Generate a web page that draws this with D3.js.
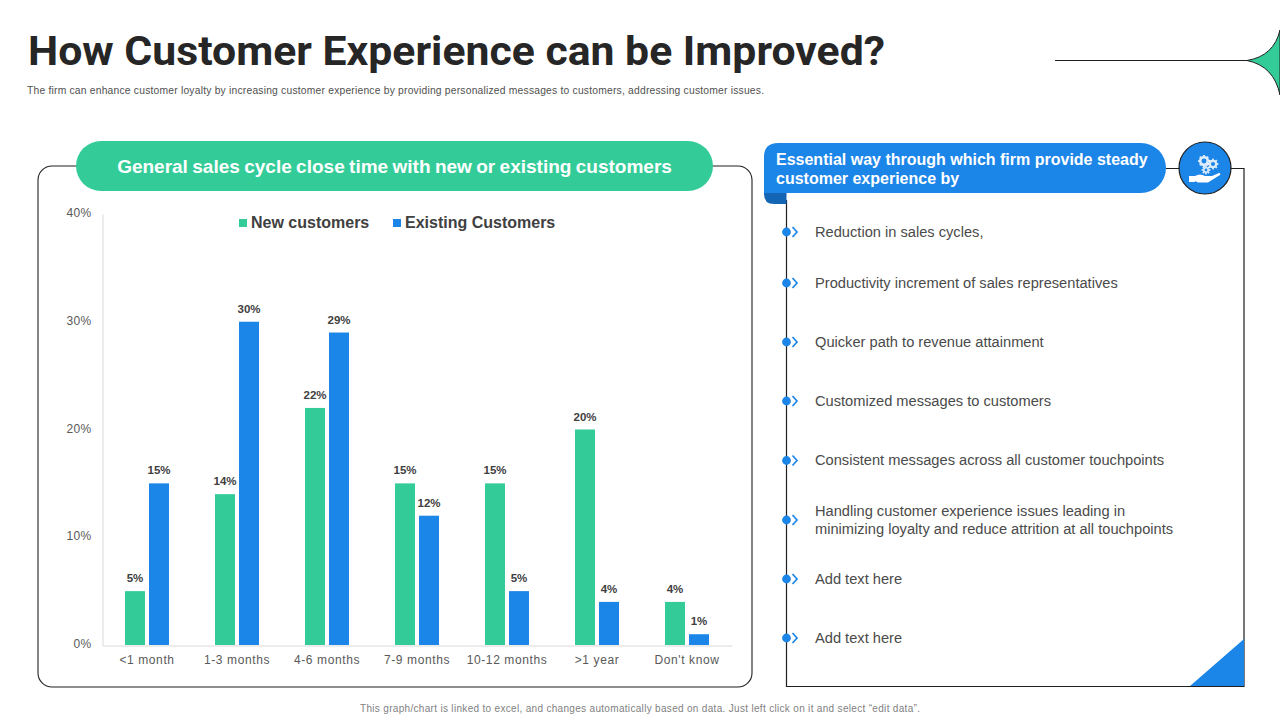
<!DOCTYPE html>
<html><head><meta charset="utf-8">
<script src="https://cdn.jsdelivr.net/npm/d3@7"></script>
<style>
html,body{margin:0;padding:0;background:#fff;width:1280px;height:720px;overflow:hidden}
svg{display:block}
text{font-family:"Liberation Sans",Arial,sans-serif}
</style></head><body>
<svg id="c" width="1280" height="720"></svg>
<script>
const categories = ["<1 month","1-3 months","4-6 months","7-9 months","10-12 months",">1 year","Don't know"];
const seriesNames = ["New customers","Existing Customers"];
const newCustomers = [5,14,22,15,15,20,4];
const existingCustomers = [15,30,29,12,5,4,1];
const yTicks = [0,10,20,30,40];
const bulletItems = [
 ["Reduction in sales cycles,"],
 ["Productivity increment of sales representatives"],
 ["Quicker path to revenue attainment"],
 ["Customized messages to customers"],
 ["Consistent messages across all customer touchpoints"],
 ["Handling customer experience issues leading in","minimizing loyalty and reduce attrition at all touchpoints"],
 ["Add text here"],
 ["Add text here"]
];
const bulletY = [232,283,342,401,460.5,520,579,638];
const titleText = "How Customer Experience can be Improved?";
const subText = "The firm can enhance customer loyalty by increasing customer experience by providing personalized messages to customers, addressing customer issues.";
const footText = "This graph/chart is linked to excel, and changes automatically based on data. Just left click on it and select \u201cedit data\u201d.";
const chartHead = "General sales cycle close time with new or existing customers";
const sideHead = ["Essential way through which firm provide steady","customer experience by"];

const GREEN="#33CC99", BLUE="#1C85E8", DARK="#1F1F1F", TXT="#404040";
const svg=d3.select("#c");

// title
svg.append("text").attr("x",28).attr("y",64.5).attr("font-size",41).attr("font-weight",700)
  .style("font-family","Roboto").attr("fill","#262626").attr("textLength",857).attr("lengthAdjust","spacingAndGlyphs").text(titleText);
svg.append("text").attr("x",27).attr("y",94).attr("font-size",10.3).attr("fill","#505050").attr("textLength",737).attr("lengthAdjust","spacing").text(subText);

// corner ornament
svg.append("line").attr("x1",1055).attr("x2",1248).attr("y1",60.5).attr("y2",60.5).attr("stroke",DARK).attr("stroke-width",1.2);
svg.append("path").attr("d","M1247,60.5 Q1274,56 1280,30 L1280,95 Q1274,66 1247,60.5Z").attr("fill",GREEN).attr("stroke",DARK).attr("stroke-width",1);

// left panel
svg.append("rect").attr("x",38).attr("y",166).attr("width",714).attr("height",521).attr("rx",14).attr("fill","#fff").attr("stroke",DARK).attr("stroke-width",1.1);
svg.append("rect").attr("x",76).attr("y",141).attr("width",637).attr("height",50).attr("rx",25).attr("fill",GREEN);
svg.append("text").attr("x",394.5).attr("y",172.5).attr("text-anchor","middle").attr("font-size",19).attr("font-weight",700).attr("word-spacing",-0.9).attr("fill","#fff").text(chartHead);

// chart
const x=d3.scaleBand().domain(categories).range([102,732]);
const inner=d3.scaleBand().domain(seriesNames).range([23,67]).paddingInner(1/6);
const y=d3.scaleLinear().domain([0,40]).range([645,214]);
const colors=d3.scaleOrdinal().domain(seriesNames).range([GREEN,BLUE]);

const yAxis=svg.append("g").attr("transform","translate(102.5,0)").call(d3.axisLeft(y).tickValues(yTicks).tickSize(0).tickPadding(11).tickFormat(d=>d+"%"));
yAxis.select(".domain").attr("stroke","#D9D9D9");
yAxis.selectAll("text").attr("font-size",12).attr("fill","#595959").attr("letter-spacing",0.3).attr("dy","0.22em").style("font-family","Liberation Sans");
const xAxis=svg.append("g").attr("transform","translate(0,645.5)").call(d3.axisBottom(x).tickSize(0).tickPadding(10));
xAxis.select(".domain").attr("stroke","#D9D9D9");
xAxis.selectAll("text").attr("font-size",12).attr("fill","#595959").attr("letter-spacing",0.6).style("font-family","Liberation Sans");

[newCustomers,existingCustomers].forEach((vals,si)=>{
  const name=seriesNames[si];
  const g=svg.append("g");
  g.selectAll("rect").data(vals).join("rect")
   .attr("x",(d,i)=>x(categories[i])+inner(name)).attr("width",inner.bandwidth())
   .attr("y",d=>y(d)).attr("height",d=>y(0)-y(d)).attr("fill",colors(name));
  g.selectAll("text").data(vals).join("text")
   .attr("x",(d,i)=>x(categories[i])+inner(name)+inner.bandwidth()/2).attr("y",d=>y(d)-9)
   .attr("text-anchor","middle").attr("font-size",11.5).attr("font-weight",700).attr("fill",TXT).text(d=>d+"%");
});

// legend
const legendX=[239,393], legendW=svg.append("g");
seriesNames.forEach((n,i)=>{
  legendW.append("rect").attr("x",legendX[i]).attr("y",219).attr("width",8).attr("height",8).attr("fill",colors(n));
  legendW.append("text").attr("x",legendX[i]+12).attr("y",228).attr("font-size",16).attr("font-weight",700).attr("fill",TXT).text(n);
});

// right panel
svg.append("path").attr("d","M1166,168.5H1244V686.5H786.5V200").attr("fill","none").attr("stroke",DARK).attr("stroke-width",1.2);
svg.append("path").attr("d","M1190,686 L1244,639 L1244,686Z").attr("fill",BLUE);
svg.append("path").attr("d","M764,185H786.5V204H774Q764,204 764,194Z").attr("fill","#1565B5");
svg.append("path").attr("d","M778,143H1141A25,25 0 0 1 1141,193H764V157Q764,143 778,143Z").attr("fill",BLUE);
sideHead.forEach((t,i)=>svg.append("text").attr("x",776).attr("y",165+i*19).attr("font-size",16).attr("font-weight",700).attr("fill","#fff").text(t));

// icon
svg.append("circle").attr("cx",1205).attr("cy",168).attr("r",26).attr("fill",BLUE).attr("stroke",DARK).attr("stroke-width",1.2);
const icon=svg.append("g").attr("fill","#fff");
function gear(cx,cy,r){
  const g=icon.append("g").attr("transform",`translate(${cx},${cy})`).attr("opacity",0.85);
  g.append("circle").attr("r",r).attr("fill","none").attr("stroke","#fff").attr("stroke-width",r*0.7);
  d3.range(8).forEach(k=>g.append("rect").attr("x",-0.9).attr("y",-r-2.2).attr("width",1.8).attr("height",2).attr("transform",`rotate(${k*45})`));
}
gear(1204,161,3.8); gear(1213,164,3.2); gear(1206,170,2.2);
icon.append("path").attr("d","M1189,176H1195Q1200,173 1205,176H1212L1219,173Q1221,173 1220,175L1208,182.5H1198L1195,181V182H1189Z");

// bullets
const bl=svg.append("g");
bulletItems.forEach((lines,i)=>{
  const cy=bulletY[i];
  bl.append("circle").attr("cx",786.5).attr("cy",cy).attr("r",4.4).attr("fill",BLUE);
  bl.append("path").attr("d",`M792.5,${cy-5}L797,${cy}L792.5,${cy+5}`).attr("fill","none").attr("stroke",BLUE).attr("stroke-width",1.7);
  lines.forEach((t,j)=>bl.append("text").attr("x",815).attr("y",cy+4.5+(j-(lines.length-1)/2)*18).attr("font-size",14.65).attr("fill","#4a4a4a").text(t));
});

// footer
svg.append("text").attr("x",360).attr("y",712).attr("font-size",10).attr("fill","#7F7F7F").attr("textLength",560).attr("lengthAdjust","spacing").text(footText);
</script>
</body></html>
